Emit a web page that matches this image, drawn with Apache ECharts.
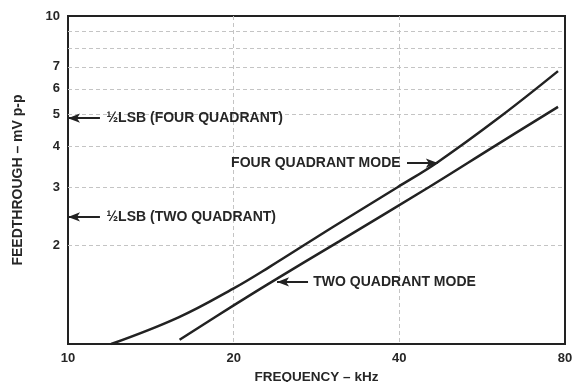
<!DOCTYPE html>
<html>
<head>
<meta charset="utf-8">
<script src="https://cdn.jsdelivr.net/npm/echarts@6/dist/echarts.min.js"></script>
<style>html,body{margin:0;padding:0;background:#fff}#c{width:578px;height:382px}</style>
</head>
<body>
<div id="c"></div>
<script>
// ---- data (raw units: kHz, mV p-p) ----
var fourFreq = [11.98, 15.88, 20.0, 23.17, 30.45, 39.7, 46.95, 60.9, 77.7];
var fourVal  = [1.00, 1.206, 1.478, 1.713, 2.286, 3.006, 3.584, 4.92, 6.79];
var twoFreq  = [15.95, 20.0, 23.17, 31.1, 45.4, 59.7, 77.7];
var twoVal   = [1.03, 1.311, 1.528, 2.056, 3.017, 4.02, 5.285];
var xTickLabels = [10, 20, 40, 80];
var xGrid = [20, 40];
var yTickLabels = [2, 3, 4, 5, 6, 7, 10];
var yGrid = [2, 3, 4, 5, 6, 7, 8, 9];
var xMin = 10, xMax = 80, yMin = 1, yMax = 10;
var lsbFour = 4.88, lsbTwo = 2.44;
// annotation anchor points [freq, mV]
var lsbArrowTail = 11.43, lsbTextStart = 11.72;
var fourModeText = [40.3, 3.56], fourModeArrow = [[41.3, 3.56], [46.99, 3.56]];
var twoModeText = [27.85, 1.546], twoModeArrow = [[27.3, 1.546], [23.98, 1.546]];

var L = Math.log10;
function pts(fx, fy) { return fx.map(function (f, i) { return [L(f), L(fy[i])]; }); }
function lg(a) { return a.map(L); }
var FONT = '"Liberation Sans", Arial, sans-serif';
var TXT = '#262626';

function arrowLine(a, b) {
  return [{ coord: [L(a[0]), L(a[1])], symbol: 'none' }, { coord: [L(b[0]), L(b[1])], symbol: 'arrow' }];
}
function textPoint(p, txt, pos) {
  return {
    coord: [L(p[0]), L(p[1])], symbol: 'rect', symbolSize: 1, itemStyle: { color: 'rgba(0,0,0,0)' },
    label: { show: true, position: pos, distance: 0, formatter: txt, color: TXT, fontFamily: FONT, fontWeight: 'bold', fontSize: 14 }
  };
}

var chart = echarts.init(document.getElementById('c'), null, { renderer: 'canvas' });
chart.setOption({
  animation: false,
  backgroundColor: '#fff',
  grid: { left: 68, right: 13, top: 16, bottom: 38, outerBoundsMode: 'none', containLabel: false,
    show: true, borderColor: '#222', borderWidth: 2 },
  xAxis: {
    type: 'value', min: L(xMin), max: L(xMax),
    name: 'FREQUENCY – kHz', nameLocation: 'middle', nameGap: 24,
    nameTextStyle: { color: TXT, fontFamily: FONT, fontWeight: 'bold', fontSize: 13.5 },
    axisLine: { show: false },
    axisTick: { show: false, customValues: lg(xGrid) },
    axisLabel: { customValues: lg(xTickLabels), formatter: function (v) { return String(Math.round(Math.pow(10, v))); },
      color: TXT, fontFamily: FONT, fontWeight: 'bold', fontSize: 13, margin: 8 },
    splitLine: { show: true, lineStyle: { color: '#c4c4c4', type: [4, 3], width: 1 } }
  },
  yAxis: {
    type: 'value', min: L(yMin), max: L(yMax),
    name: 'FEEDTHROUGH – mV p-p', nameLocation: 'middle', nameGap: 43,
    nameTextStyle: { color: TXT, fontFamily: FONT, fontWeight: 'bold', fontSize: 14 },
    axisLine: { show: false },
    axisTick: { show: false, customValues: lg(yGrid) },
    axisLabel: { customValues: lg(yTickLabels), formatter: function (v) { return String(Math.round(Math.pow(10, v))); },
      color: TXT, fontFamily: FONT, fontWeight: 'bold', fontSize: 13, margin: 8 },
    splitLine: { show: true, lineStyle: { color: '#c4c4c4', type: [4, 3], width: 1 } }
  },
  series: [
    {
      name: 'FOUR QUADRANT MODE', type: 'line', data: pts(fourFreq, fourVal), smooth: 0.4,
      showSymbol: false, lineStyle: { color: '#222', width: 2.5 }, silent: true,
      markLine: {
        silent: true, animation: false, symbolSize: [7, 12],
        lineStyle: { color: '#222', width: 2, type: 'solid' }, label: { show: false },
        data: [
          arrowLine([lsbArrowTail, lsbFour], [xMin, lsbFour]),
          arrowLine([lsbArrowTail, lsbTwo], [xMin, lsbTwo]),
          arrowLine(fourModeArrow[0], fourModeArrow[1]),
          arrowLine(twoModeArrow[0], twoModeArrow[1])
        ]
      },
      markPoint: {
        silent: true, animation: false,
        data: [
          textPoint([lsbTextStart, lsbFour], '½LSB (FOUR QUADRANT)', 'right'),
          textPoint([lsbTextStart, lsbTwo], '½LSB (TWO QUADRANT)', 'right'),
          textPoint(fourModeText, 'FOUR QUADRANT MODE', 'left'),
          textPoint(twoModeText, 'TWO QUADRANT MODE', 'right')
        ]
      }
    },
    {
      name: 'TWO QUADRANT MODE', type: 'line', data: pts(twoFreq, twoVal), smooth: 0.4,
      showSymbol: false, lineStyle: { color: '#222', width: 2.5 }, silent: true
    }
  ]
});
</script>
</body>
</html>
